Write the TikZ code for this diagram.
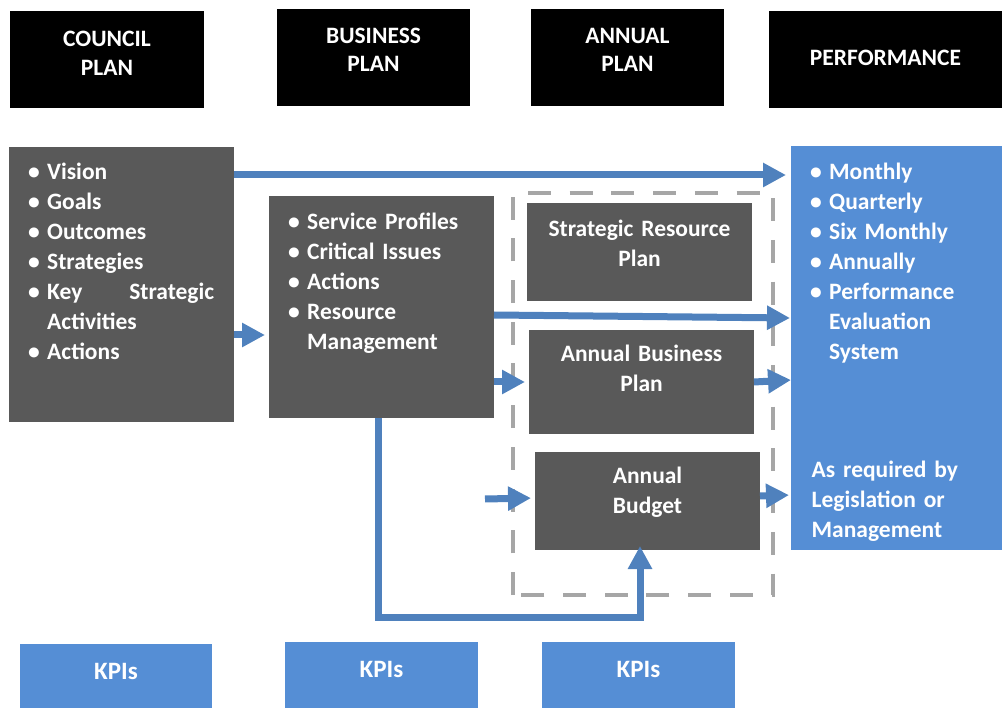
\documentclass[tikz,border=0pt]{standalone}
\usepackage{fontspec}
\setmainfont{Carlito}
\usetikzlibrary{arrows.meta}
\definecolor{grisboite}{HTML}{595959}
\definecolor{bleuboite}{HTML}{558ED5}
\definecolor{bleufleche}{HTML}{4F81BD}
\definecolor{grispointille}{HTML}{A6A6A6}

\newcommand{\puce}[1]{\hangindent=19pt\hangafter=1\noindent\makebox[19pt][l]{\textbullet}#1\par}

\tikzset{
	entete/.style={fill=black, minimum width=194pt, minimum height=97pt, inner sep=0pt, outer sep=0pt},
	boite/.style={fill=grisboite, minimum width=225pt, inner sep=0pt, outer sep=0pt},
	bleue/.style={fill=bleuboite, inner sep=0pt, outer sep=0pt},
	texte/.style={text=white, font=\bfseries\fontsize{23.5}{30}\selectfont, inner sep=0pt},
	centre/.style={texte, text width=230pt, align=center, anchor=base},
	titre/.style={centre, font=\bfseries\fontsize{23.5}{28.5}\selectfont},
	liste/.style={texte, text width=#1, align=left, anchor=base west},
	fleche/.style={bleufleche, line width=7pt, -{Triangle[width=23pt,length=23pt]}}
}

\begin{document}
\begin{tikzpicture}[x=1pt,y=-1pt]
				\useasboundingbox (0,0) rectangle (1002,708);
				% En-têtes
				\node[entete] (hconseil) at (107,59.5) {};
				\node[entete, minimum width=193pt] (haffaires) at (373.5,57.5) {};
				\node[entete, minimum width=193pt] (hannuel) at (627.5,57.5) {};
				\node[entete, minimum width=233pt] (hperf) at (885.5,59.5) {};
				\node[titre] (tconseil) at ([yshift=12.8pt]hconseil.center) {COUNCIL\\PLAN};
				\node[titre] (taffaires) at ([yshift=14pt]haffaires.center) {BUSINESS\\PLAN};
				\node[titre] (tannuel) at ([yshift=14pt]hannuel.center) {ANNUAL\\PLAN};
				\node[titre] (tperf) at ([yshift=-6.5pt]hperf.center) {PERFORMANCE};
				% Cadre pointillé
				\draw[grispointille, line width=4.5pt, dash pattern=on 23pt off 18.7pt] (513,595) -- (513,193) -- (773,193) -- (773,595) -- cycle;
				% Boîtes
				\node[boite, minimum height=275pt] (conseil) at (121.5,284.5) {};
				\node[boite, minimum height=222pt] (affaires) at (381.5,307) {};
				\node[boite, minimum height=98pt] (ressources) at (639.5,252) {};
				\node[boite, minimum height=104pt] (planannuel) at (641.5,382) {};
				\node[boite, minimum height=98pt] (budget) at (647.5,501) {};
				\node[bleue, minimum width=211pt, minimum height=404pt] (perf) at (896.5,348) {};
				\node[liste=186pt] (lconseil) at ([xshift=19pt,yshift=-33pt]conseil.north west)
					{\puce{Vision}\puce{Goals}\puce{Outcomes}\puce{Strategies}\puce{Key\hfill Strategic\newline Activities}\puce{Actions}};
				\node[liste=200pt] (laffaires) at ([xshift=19pt,yshift=-34pt]affaires.north west)
					{\puce{Service Profiles}\puce{Critical Issues}\puce{Actions}\puce{Resource\newline Management}};
				\node[liste=190pt] (lperf) at ([xshift=19pt,yshift=-34pt]perf.north west)
					{\puce{Monthly}\puce{Quarterly}\puce{Six Monthly}\puce{Annually}\puce{Performance\newline Evaluation\newline System}};
				\node[liste=190pt] (nperf) at ([xshift=20.5pt,yshift=-332pt]perf.north west)
					{As required by\\Legislation or\\Management};
				\node[centre] (tressources) at ([yshift=15.3pt]ressources.center) {Strategic Resource\\Plan};
				\node[centre] (tplanannuel) at ([yshift=20.3pt]planannuel.center) {Annual Business\\Plan};
				\node[centre] (tbudget) at ([yshift=17.7pt]budget.center) {Annual\\Budget};
				% KPIs
				\node[bleue, minimum width=192pt, minimum height=64pt] (kpi1) at (116,676) {};
				\node[bleue, minimum width=193pt, minimum height=66pt] (kpi2) at (381.5,675) {};
				\node[bleue, minimum width=193pt, minimum height=66pt] (kpi3) at (638.5,675) {};
				\node[centre, font=\bfseries\fontsize{25}{30}\selectfont] (tkpi1) at ([yshift=-3pt]kpi1.center) {KPIs};
				\node[centre, font=\bfseries\fontsize{25}{30}\selectfont] (tkpi2) at ([yshift=-2.5pt]kpi2.center) {KPIs};
				\node[centre, font=\bfseries\fontsize{25}{30}\selectfont] (tkpi3) at ([yshift=-2.5pt]kpi3.center) {KPIs};
				% Flèches
				\coordinate (entree) at (485,499);
				\draw[fleche, shorten >=5pt] (conseil.east |- 0,175) -- (perf.west |- 0,175);
				\draw[fleche, shorten >=4pt] (conseil.east |- 0,335) -- (affaires.west |- 0,335);
				\draw[fleche, shorten >=1pt] (affaires.east |- 0,315) -- (perf.west |- 0,318);
				\draw[fleche, shorten >=4pt] (affaires.east |- 0,382) -- (planannuel.west |- 0,382);
				\draw[fleche] (planannuel.east |- 0,382) -- (perf.west |- 0,380);
				\draw[fleche, shorten >=4pt] (entree) -- (budget.west |- 0,498);
				\draw[fleche, shorten >=2pt] (budget.east |- 0,496) -- (perf.west |- 0,495);
				\draw[fleche, shorten >=-4pt] (affaires.south -| 378,0) |- (640,617) -- (budget.south -| 640,0);
\end{tikzpicture}
\end{document}
